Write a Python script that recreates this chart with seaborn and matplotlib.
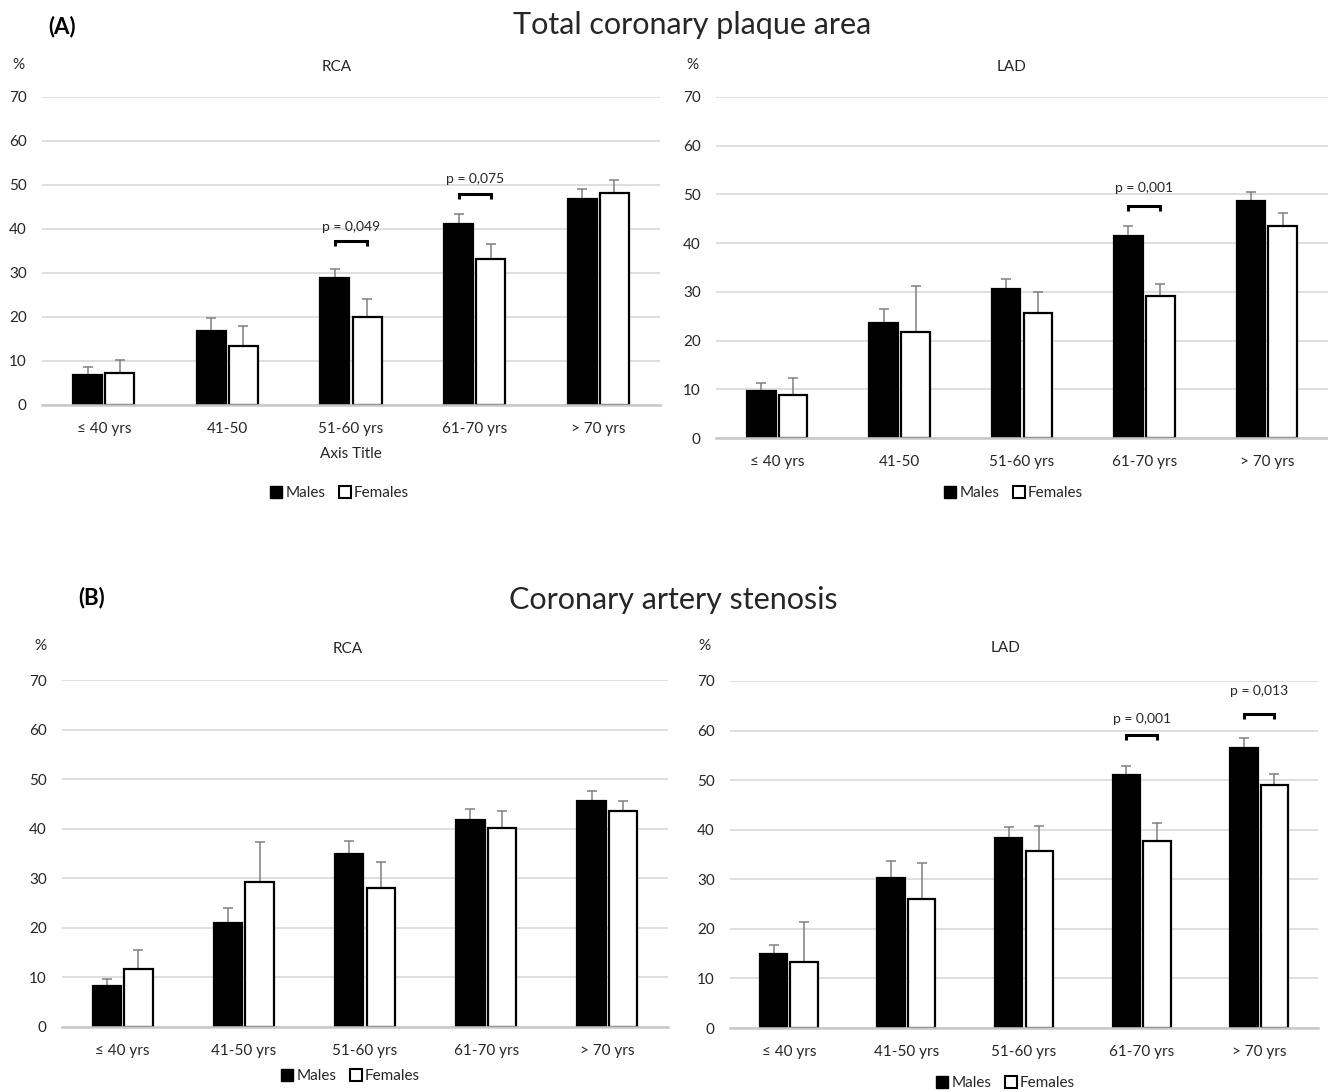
import numpy as np
import pandas as pd
import matplotlib
matplotlib.use("Agg")
import matplotlib.pyplot as plt
from matplotlib.lines import Line2D
import seaborn as sns

# ---- data -------------------------------------------------------------
categories_a = ["≤ 40 yrs", "41-50", "51-60 yrs", "61-70 yrs", "> 70 yrs"]
categories_b = ["≤ 40 yrs", "41-50 yrs", "51-60 yrs", "61-70 yrs", "> 70 yrs"]
sexes = ["Males", "Females"]

# (A) total coronary plaque area, %
plaque_rca_males = [6.8, 16.9, 28.8, 41.1, 46.8]
plaque_rca_males_err = [1.8, 2.9, 2.0, 2.3, 2.3]
plaque_rca_females = [7.3, 13.5, 19.9, 33.1, 48.1]
plaque_rca_females_err = [3.0, 4.5, 4.1, 3.5, 3.0]

plaque_lad_males = [9.6, 23.7, 30.6, 41.5, 48.6]
plaque_lad_males_err = [1.6, 2.8, 2.1, 2.0, 2.0]
plaque_lad_females = [8.8, 21.8, 25.6, 29.1, 43.5]
plaque_lad_females_err = [3.6, 9.4, 4.3, 2.6, 2.7]

# (B) coronary artery stenosis, %
stenosis_rca_males = [8.3, 21.0, 34.8, 41.7, 45.5]
stenosis_rca_males_err = [1.3, 3.1, 2.7, 2.2, 2.1]
stenosis_rca_females = [11.7, 29.3, 28.1, 40.1, 43.6]
stenosis_rca_females_err = [3.9, 8.1, 5.1, 3.5, 2.0]

stenosis_lad_males = [15.0, 30.2, 38.3, 51.0, 56.5]
stenosis_lad_males_err = [1.7, 3.5, 2.3, 1.9, 2.1]
stenosis_lad_females = [13.4, 26.1, 35.7, 37.7, 49.0]
stenosis_lad_females_err = [8.0, 7.2, 5.1, 3.6, 2.2]

# significance brackets: (category index, bracket height, label height, label)
plaque_rca_pvalues = [(2, 37.2, 40.4, "p = 0,049"), (3, 48.0, 51.3, "p = 0,075")]
plaque_lad_pvalues = [(3, 47.7, 51.4, "p = 0,001")]
stenosis_rca_pvalues = []
stenosis_lad_pvalues = [(3, 59.2, 62.4, "p = 0,001"), (4, 63.4, 68.0, "p = 0,013")]

# ---- style ------------------------------------------------------------
sns.set_theme(style="white")
plt.rcParams["font.family"] = ["Lato", "DejaVu Sans"]
TEXT = "#262626"
GRID = "#d9d9d9"

W, H = 1328, 1092
fig = plt.figure(figsize=(W / 100, H / 100), dpi=100)
fig.patch.set_facecolor("white")


def add_axes(left, right, zero_y, top_y):
    return fig.add_axes([left / W, 1 - zero_y / H, (right - left) / W, (zero_y - top_y) / H])


def ftext(x, y, s, **kw):
    kw.setdefault("ha", "center")
    kw.setdefault("va", "center")
    kw.setdefault("color", TEXT)
    fig.text(x / W, 1 - y / H, s, **kw)


def draw_panel(ax, cats, males, males_err, females, females_err, pvalues):
    df = pd.DataFrame({
        "group": cats * 2,
        "value": males + females,
        "sex": ["Males"] * len(cats) + ["Females"] * len(cats),
    })
    sns.barplot(data=df, x="group", y="value", hue="sex", order=cats,
                hue_order=sexes, palette={"Males": "black", "Females": "white"},
                edgecolor="black", linewidth=1.6, width=0.52, gap=0.1,
                legend=False, ax=ax, zorder=2)

    centers = []
    for container, errs in zip(ax.containers, [males_err, females_err]):
        xs = [p.get_x() + p.get_width() / 2 for p in container]
        hs = [p.get_height() for p in container]
        centers.append(xs)
        ax.errorbar(xs, hs, yerr=[np.zeros(len(errs)), errs], fmt="none",
                    ecolor="#808080", elinewidth=1.1, capsize=3.5, capthick=1.1,
                    zorder=1.5)

    for idx, yb, yt, label in pvalues:
        x0, x1 = centers[0][idx], centers[1][idx]
        tip = 1.1
        ax.plot([x0, x0, x1, x1], [yb - tip, yb, yb, yb - tip], color="black",
                lw=2.2, solid_joinstyle="miter", solid_capstyle="butt", zorder=4)
        ax.text((x0 + x1) / 2, yt, label, ha="center", va="center",
                fontsize=10, color=TEXT)

    ax.set_ylim(0, 70)
    ax.set_yticks(range(0, 71, 10))
    ax.set_xlim(-0.5, len(cats) - 0.5)
    ax.yaxis.grid(True, color=GRID, linewidth=1.2)
    ax.xaxis.grid(False)
    ax.set_axisbelow(True)
    for side in ["top", "left", "right"]:
        ax.spines[side].set_visible(False)
    ax.spines["bottom"].set_color("#c8c8c8")
    ax.spines["bottom"].set_linewidth(1.8)
    ax.tick_params(axis="both", length=0, labelsize=11, labelcolor=TEXT)
    ax.tick_params(axis="y", pad=11)
    ax.tick_params(axis="x", pad=12)
    ax.set_xlabel("")
    ax.set_ylabel("")
    ax.set_facecolor("white")


legend_handles = [
    Line2D([], [], marker="s", linestyle="none", markersize=9,
           markerfacecolor="black", markeredgecolor="black"),
    Line2D([], [], marker="s", linestyle="none", markersize=9,
           markerfacecolor="white", markeredgecolor="black", markeredgewidth=1.5),
]


def add_legend(x, y):
    fig.legend(legend_handles, sexes, loc="center", bbox_to_anchor=(x / W, 1 - y / H),
               ncol=2, frameon=False, handlelength=0.7, handletextpad=0.25,
               columnspacing=0.9, fontsize=11, labelcolor=TEXT)


# ---- (A) Total coronary plaque area -----------------------------------
ax1 = add_axes(42, 660, 405, 97)
draw_panel(ax1, categories_a, plaque_rca_males, plaque_rca_males_err,
           plaque_rca_females, plaque_rca_females_err, plaque_rca_pvalues)
ax1.set_xlabel("Axis Title", fontsize=11, color=TEXT, labelpad=8)

ax2 = add_axes(716, 1328, 438, 97)
draw_panel(ax2, categories_a, plaque_lad_males, plaque_lad_males_err,
           plaque_lad_females, plaque_lad_females_err, plaque_lad_pvalues)

ftext(62, 27, "(A)", fontsize=16, fontweight="bold", color="black")
ftext(692, 25, "Total coronary plaque area", fontsize=22)
ftext(18, 65, "%", fontsize=11)
ftext(337, 67, "RCA", fontsize=11)
ftext(692, 65, "%", fontsize=11)
ftext(1012, 67, "LAD", fontsize=11)
add_legend(340, 493)
add_legend(1014, 493)

# ---- (B) Coronary artery stenosis -------------------------------------
ax3 = add_axes(62, 668, 1027, 680)
draw_panel(ax3, categories_b, stenosis_rca_males, stenosis_rca_males_err,
           stenosis_rca_females, stenosis_rca_females_err, stenosis_rca_pvalues)

ax4 = add_axes(730, 1318, 1028, 681)
draw_panel(ax4, categories_b, stenosis_lad_males, stenosis_lad_males_err,
           stenosis_lad_females, stenosis_lad_females_err, stenosis_lad_pvalues)

ftext(92, 598, "(B)", fontsize=16, fontweight="bold", color="black")
ftext(673, 600, "Coronary artery stenosis", fontsize=22)
ftext(40, 646, "%", fontsize=11)
ftext(348, 649, "RCA", fontsize=11)
ftext(704, 646, "%", fontsize=11)
ftext(1006, 648, "LAD", fontsize=11)
add_legend(351, 1076)
add_legend(1006, 1083)

fig.savefig("out.png", dpi=100, facecolor="white")
